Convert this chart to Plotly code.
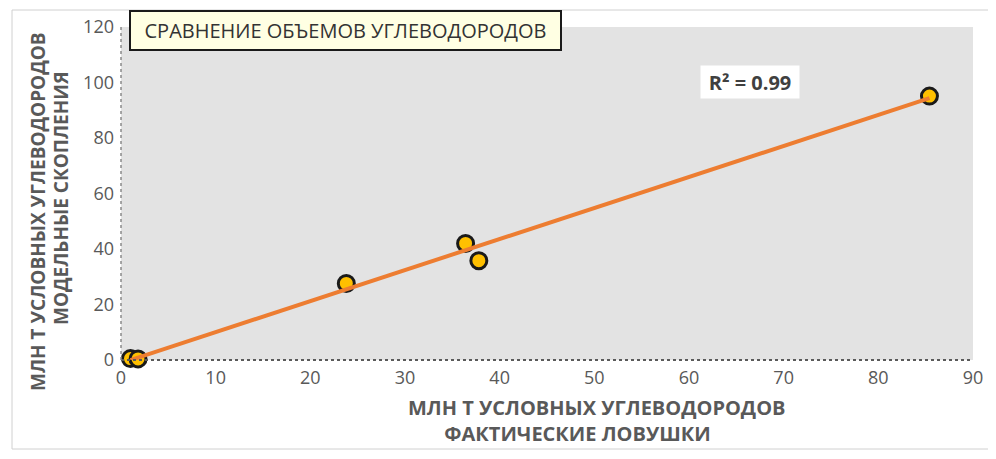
import numpy as np
import plotly.graph_objects as go

# Data
actual_traps = [1.0, 1.8, 23.8, 36.4, 37.8, 85.4]      # x: фактические ловушки
model_accum = [0.5, 0.4, 27.6, 42.0, 35.8, 95.1]       # y: модельные скопления
x_ticks = [0, 10, 20, 30, 40, 50, 60, 70, 80, 90]
y_ticks = [0, 20, 40, 60, 80, 100, 120]
r2_text = "R² = 0.99"
chart_title = "СРАВНЕНИЕ ОБЪЕМОВ УГЛЕВОДОРОДОВ"
x_title_1 = "МЛН Т УСЛОВНЫХ УГЛЕВОДОРОДОВ"
x_title_2 = "ФАКТИЧЕСКИЕ ЛОВУШКИ"
y_title_1 = "МЛН Т УСЛОВНЫХ УГЛЕВОДОРОДОВ"
y_title_2 = "МОДЕЛЬНЫЕ СКОПЛЕНИЯ"

# Linear trendline (as in the spreadsheet), spanning the data range
slope, intercept = np.polyfit(actual_traps, model_accum, 1)
trend_x = [min(actual_traps), max(actual_traps)]
trend_y = [slope * v + intercept for v in trend_x]

FONT = "Open Sans"
GRAY = "#595959"

fig = go.Figure()
fig.add_trace(go.Scatter(
    x=actual_traps, y=model_accum, mode="markers",
    marker=dict(size=16, color="#FFC000", line=dict(color="#1a1a1a", width=3)),
    cliponaxis=False, showlegend=False, hoverinfo="x+y"))
fig.add_trace(go.Scatter(
    x=trend_x, y=trend_y, mode="lines",
    line=dict(color="#ED7D31", width=4),
    cliponaxis=False, showlegend=False, hoverinfo="skip"))

# The page body has an 8px margin, so the figure is made 16px smaller and
# all window-pixel positions are measured relative to that offset.
OFF = 8
W, H = 996 - 2 * OFF, 459 - 2 * OFF
# plot area in window pixels: x 121..973, y 27..360
L, R, T, B = 121 - OFF, W - (973 - OFF), 27 - OFF, H - (360 - OFF)
pw, ph = W - L - R, H - T - B

def px(xw):
    return (xw - OFF - L) / pw

def py(yw):
    return (H - B - (yw - OFF)) / ph

x_title = ("<b>" + x_title_1 + "<br>" + "&nbsp;" * 7 + x_title_2 + "</b>")

fig.update_layout(
    width=W, height=H,
    margin=dict(l=L, r=R, t=T, b=B, autoexpand=False),
    paper_bgcolor="white",
    plot_bgcolor="#E3E3E3",
    font=dict(family=FONT, color=GRAY, size=16),
    xaxis=dict(range=[0, 90], tickvals=x_ticks, showgrid=False, zeroline=False,
               showline=False, ticks="", ticklabelstandoff=5, automargin=False,
               tickfont=dict(size=18, color=GRAY, family=FONT), fixedrange=True),
    yaxis=dict(range=[0, 120], tickvals=y_ticks, showgrid=False, zeroline=False,
               showline=False, ticks="", ticklabelstandoff=6, automargin=False,
               tickfont=dict(size=18, color=GRAY, family=FONT), fixedrange=True),
    shapes=[
        # outer chart frame
        dict(type="rect", xref="paper", yref="paper",
             x0=px(12), x1=px(990), y0=py(449), y1=py(10),
             line=dict(color="#D0D0D0", width=1), fillcolor="rgba(0,0,0,0)", layer="below"),
        # dotted axis lines
        dict(type="line", xref="paper", yref="paper", x0=0, x1=1, y0=0, y1=0,
             line=dict(color="#5a5a5a", width=2, dash="dot")),
        dict(type="line", xref="paper", yref="paper", x0=0, x1=0, y0=0, y1=1,
             line=dict(color="#8a8a8a", width=1.5, dash="dot")),
    ],
    annotations=[
        dict(text=chart_title, xref="paper", yref="paper", x=px(345.5), y=py(30),
             xanchor="center", yanchor="middle", showarrow=False,
             font=dict(family=FONT, size=20, color="#333333"),
             bgcolor="#FFFFE3", bordercolor="#1a1a1a", borderwidth=2, borderpad=2,
             width=425, height=33),
        dict(text="<b>" + r2_text + "</b>", xref="paper", yref="paper", x=px(750), y=py(81.5),
             xanchor="center", yanchor="middle", showarrow=False,
             font=dict(family=FONT, size=20, color="#404040"),
             bgcolor="white", width=96, height=30, borderpad=1),
        dict(text=x_title, xref="paper", yref="paper", x=px(406), y=py(420),
             xanchor="left", yanchor="middle", align="left", showarrow=False,
             font=dict(family=FONT, size=20, color=GRAY)),
        dict(text="<b>" + y_title_1 + "</b>", xref="paper", yref="paper", x=px(38), y=py(212),
             xanchor="center", yanchor="middle", showarrow=False, textangle=-90,
             font=dict(family=FONT, size=19, color=GRAY)),
        dict(text="<b>" + y_title_2 + "</b>", xref="paper", yref="paper", x=px(61), y=py(198),
             xanchor="center", yanchor="middle", showarrow=False, textangle=-90,
             font=dict(family=FONT, size=19, color=GRAY)),
    ],
)

fig.write_html("out.html")
